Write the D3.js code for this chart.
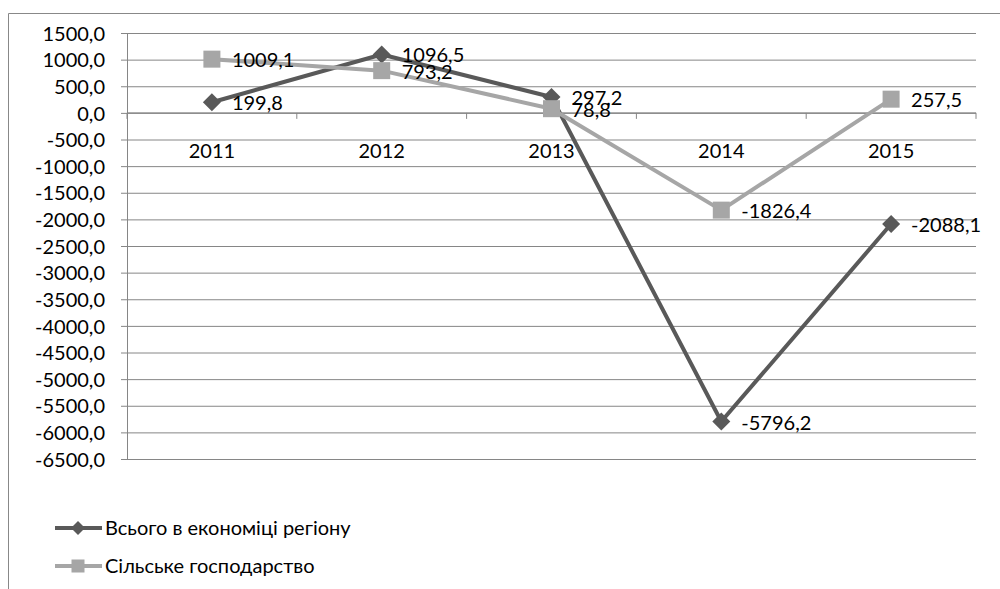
<!DOCTYPE html>
<html lang="uk">
<head>
<meta charset="UTF-8">
<title>Chart</title>
<style>
  body, html { margin: 0; padding: 0; background: #fff; overflow: hidden; }
  svg { display: block; font-family: Lato, "Open Sans", sans-serif; }
  .lbl { font-size: 20px; fill: #000; font-family: Lato, "Open Sans", sans-serif; }
</style>
</head>
<body>
<svg width="1000" height="589"></svg>
<script src="https://d3js.org/d3.v7.min.js"></script>
<script>
const years = ["2011", "2012", "2013", "2014", "2015"];
const totalEconomy = [199.8, 1096.5, 297.2, -5796.2, -2088.1];
const agriculture = [1009.1, 793.2, 78.8, -1826.4, 257.5];
const yTicks = d3.range(-6500, 1501, 500);
const seriesNames = ["Всього в економіці регіону", "Сільське господарство"];

const svg = d3.select("svg");
const plot = { left: 127, right: 976, top: 33, bottom: 459 };
const fmt = v => d3.format(".1f")(v).replace(".", ",").replace("−", "-");

// frame of the chart area (cut off at the right and bottom)
svg.append("path")
  .attr("d", "M8.5,589 V13.5 H1000")
  .attr("fill", "none").attr("stroke", "#888").attr("stroke-width", 1);

const x = d3.scaleBand().domain(years).range([plot.left, plot.right]);
const y = d3.scaleLinear().domain([-6500, 1500]).range([plot.bottom, plot.top]);

// gridlines + value axis
const yAxis = d3.axisLeft(y).tickValues(yTicks).tickSize(6).tickPadding(16).tickFormat(fmt);
const gY = svg.append("g").attr("transform", `translate(${plot.left},0)`).call(yAxis);
gY.attr("font-family", null).attr("font-size", null);
gY.select(".domain").attr("stroke", "#868686");
gY.selectAll(".tick line").attr("stroke", "#868686");
gY.selectAll(".tick text").attr("class", "lbl").attr("fill", "#000").attr("dy", "0.36em");
gY.selectAll(".tick").append("line")
  .attr("x1", 0).attr("x2", plot.right - plot.left)
  .attr("stroke", "#868686").attr("stroke-width", 1);

// category axis sits at zero
const y0 = y(0);
const gX = svg.append("g").attr("transform", `translate(0,${y0})`);
gX.append("line").attr("x1", plot.left).attr("x2", plot.right).attr("stroke", "#868686");
gX.selectAll(".cat-tick")
  .data(years.concat(["end"]))
  .enter().append("line")
  .attr("x1", (d, i) => i < years.length ? x(d) : plot.right)
  .attr("x2", (d, i) => i < years.length ? x(d) : plot.right)
  .attr("y1", 0).attr("y2", 6)
  .attr("stroke", "#868686");
gX.selectAll(".cat")
  .data(years)
  .enter().append("text")
  .attr("class", "lbl")
  .attr("x", d => x(d) + x.bandwidth() / 2)
  .attr("y", 45)
  .attr("text-anchor", "middle")
  .text(d => d);

const cx = d => x(d) + x.bandwidth() / 2;
const series = [
  { name: seriesNames[0], values: totalEconomy, color: "#595959", marker: "diamond" },
  { name: seriesNames[1], values: agriculture, color: "#a6a6a6", marker: "square" }
];

function drawMarker(g, type, color, r) {
  if (type === "diamond") {
    g.append("path").attr("d", `M0,${-r} L${r},0 L0,${r} L${-r},0 Z`).attr("fill", color);
  } else {
    g.append("rect").attr("x", -r + 0.5).attr("y", -r + 0.5).attr("width", 2 * r - 1).attr("height", 2 * r - 1).attr("fill", color);
  }
}

const line = d3.line().x(d => cx(d.year)).y(d => y(d.value));

series.forEach(s => {
  const pts = years.map((yr, i) => ({ year: yr, value: s.values[i] }));
  svg.append("path")
    .datum(pts)
    .attr("d", line)
    .attr("fill", "none")
    .attr("stroke", s.color)
    .attr("stroke-width", 4)
    .attr("stroke-linejoin", "round");
  pts.forEach(p => {
    const g = svg.append("g").attr("transform", `translate(${cx(p.year)},${y(p.value)})`);
    drawMarker(g, s.marker, s.color, 9);
  });
});

// data labels on top
series.forEach(s => {
  svg.selectAll(null)
    .data(years.map((yr, i) => ({ year: yr, value: s.values[i] })))
    .enter().append("text")
    .attr("class", "lbl")
    .attr("x", d => cx(d.year) + 20)
    .attr("y", d => y(d.value) + 8)
    .text(d => fmt(d.value));
});

// legend
const legend = svg.append("g");
series.forEach((s, i) => {
  const ly = 528 + i * 38;
  const g = legend.append("g").attr("transform", `translate(0,${ly})`);
  g.append("line").attr("x1", 55).attr("x2", 102).attr("stroke", s.color).attr("stroke-width", 4);
  const m = g.append("g").attr("transform", "translate(78,0)");
  drawMarker(m, s.marker, s.color, 7);
  g.append("text").attr("class", "lbl").attr("x", 105).attr("y", 7).text(s.name);
});
</script>
</body>
</html>
